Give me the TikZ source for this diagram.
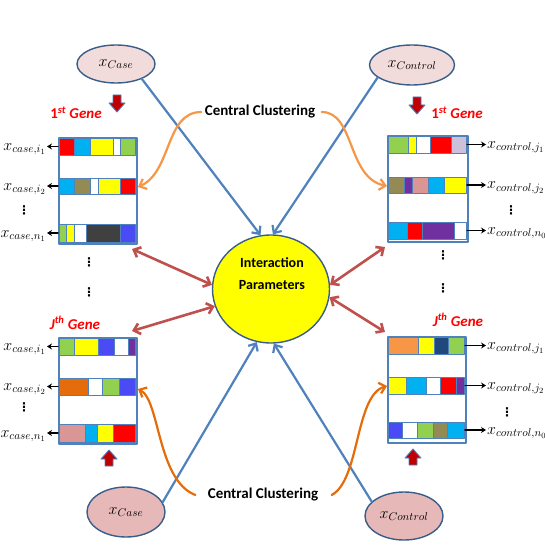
\RequirePackage{fix-cm}
\documentclass[tikz,border=0pt]{standalone}
\usepackage{fontspec}
\setmainfont{Carlito}
\newfontfamily\dotsfont{DejaVu Sans}
\usetikzlibrary{arrows.meta,shapes.geometric}
\definecolor{ocean}{HTML}{4F81BD}
\definecolor{edge}{HTML}{385D8A}
\definecolor{brick}{HTML}{C0504D}
\definecolor{amber}{HTML}{F79646}
\definecolor{rust}{HTML}{E46C0A}
\definecolor{blush}{HTML}{F2DCDB}
\definecolor{rosy}{HTML}{E6B9B8}
\definecolor{sky}{HTML}{00B0F0}
\definecolor{leaf}{HTML}{92D050}
\definecolor{khaki}{HTML}{948A54}
\definecolor{coal}{HTML}{404040}
\definecolor{royal}{HTML}{4B4BF5}
\definecolor{lilac}{HTML}{CCC0DA}
\definecolor{grape}{HTML}{7030A0}
\definecolor{dusty}{HTML}{D99694}
\definecolor{navy}{HTML}{1F497D}
\definecolor{gold}{HTML}{FFFF00}
\definecolor{scarlet}{HTML}{FF0000}
\definecolor{wine}{HTML}{C00000}
\begin{document}
\begin{tikzpicture}[x=1pt, y=-1pt, line join=round, line cap=round, >={Straight Barb[length=6pt,width=11pt]},
	sample/.style={ellipse, draw=edge, line width=1.4pt, inner sep=0pt, minimum width=78pt, font=\fontsize{16}{19}\selectfont},
	block/.style={draw=ocean, line width=2pt, fill=white, minimum width=78pt, minimum height=106pt, inner sep=0pt},
	cellbox/.style={draw=ocean, line width=0.9pt},
	rowlab/.style={inner sep=1pt, font=\fontsize{16}{19}\selectfont},
	rowarr/.style={-{Stealth[length=5pt,width=6pt]}, line width=1.4pt},
	genelab/.style={text=scarlet, font=\fontsize{15}{17}\selectfont\bfseries\itshape},
	boldtext/.style={font=\fontsize{15}{18}\selectfont\bfseries},
	dotlab/.style={inner sep=0pt, font=\fontsize{12}{13}\dotsfont\bfseries},
	feed/.style={->, draw=ocean, line width=2.2pt},
	link/.style={<->, draw=brick, line width=2.6pt},
	cluster/.style={->, line width=2.2pt},
	blockarr/.style={fill=wine, draw=ocean, line width=0.9pt}]
	\useasboundingbox (0,0) rectangle (545,545);
	% samples and centre
	\node[sample, fill=blush, minimum height=38pt] (caseA) at (116,64) {$x_{Case}$};
	\node[sample, fill=blush, minimum width=85pt, minimum height=40pt] (ctrlA) at (412,65) {$x_{Control}$};
	\node[sample, fill=rosy, minimum height=50pt] (caseB) at (126,512) {$x_{Case}$};
	\node[sample, fill=rosy, minimum height=48pt] (ctrlB) at (404,516) {$x_{Control}$};
	\node[ellipse, draw=edge, line width=1.4pt, fill=gold, minimum width=117pt, minimum height=108pt] (ip) at (271,289) {};
	\node[align=center, font=\fontsize{14}{22}\selectfont\bfseries] (iptext) at (272,274) {Interaction\\Parameters};
	\node[boldtext] (ccA) at (260,112) {Central Clustering};
	\node[boldtext] (ccB) at (263,495) {Central Clustering};
	% gene labels and block arrows
	\node[genelab] (geneA) at (76,113) {{\upshape 1}\textsuperscript{st} Gene};
	\node[genelab] (geneB) at (457,113) {{\upshape 1}\textsuperscript{st} Gene};
	\node[genelab] (geneC) at (75,323) {J\textsuperscript{th} Gene};
	\node[genelab] (geneD) at (458,320) {J\textsuperscript{th} Gene};
	\draw[blockarr] (113,95) -- ++(8,0) -- ++(0,8) -- ++(4,0) -- ++(-8,9) -- ++(-8,-9) -- ++(4,0) -- cycle;
	\draw[blockarr] (413,97) -- ++(8,0) -- ++(0,8) -- ++(4,0) -- ++(-8,9) -- ++(-8,-9) -- ++(4,0) -- cycle;
	\draw[blockarr] (105,466) -- ++(8,0) -- ++(0,-7) -- ++(4,0) -- ++(-8,-9) -- ++(-8,9) -- ++(4,0) -- cycle;
	\draw[blockarr] (409,465) -- ++(8,0) -- ++(0,-7) -- ++(4,0) -- ++(-8,-9) -- ++(-8,9) -- ++(4,0) -- cycle;
	% blocks
	\node[block, anchor=north west] (blkA) at (58,137) {};
	\node[block, anchor=north west, minimum width=80pt] (blkB) at (387,135) {};
	\node[block, anchor=north west] (blkC) at (58,337) {};
	\node[block, anchor=north west] (blkD) at (387,336) {};
	\foreach \a/\b/\c in {59/74/scarlet, 74/90/sky, 90/113/gold, 113/120/white, 120/135/leaf}
		\draw[cellbox, fill=\c] (\a,138) rectangle (\b,155);
	\foreach \a/\b/\c in {59/74/sky, 74/90/khaki, 90/98/white, 98/120/gold, 120/135/scarlet}
		\draw[cellbox, fill=\c] (\a,178) rectangle (\b,194);
	\foreach \a/\b/\c in {59/66/leaf, 66/74/gold, 74/86/white, 86/120/coal, 120/135/royal}
		\draw[cellbox, fill=\c] (\a,224) rectangle (\b,242);
	\foreach \a/\b/\c in {388/408/leaf, 408/416/gold, 416/430/white, 430/451/scarlet, 451/466/lilac}
		\draw[cellbox, fill=\c] (\a,136) rectangle (\b,153);
	\foreach \a/\b/\c in {388/404/khaki, 404/412/grape, 412/428/dusty, 428/444/sky, 444/466/gold}
		\draw[cellbox, fill=\c] (\a,177) rectangle (\b,193);
	\foreach \a/\b/\c in {388/407/sky, 407/422/scarlet, 422/454/grape, 454/466/white}
		\draw[cellbox, fill=\c] (\a,222) rectangle (\b,239);
	\foreach \a/\b/\c in {59/74/leaf, 74/98/gold, 98/114/royal, 114/128/white, 128/135/grape}
		\draw[cellbox, fill=\c] (\a,338) rectangle (\b,355);
	\foreach \a/\b/\c in {59/88/rust, 88/102/white, 102/119/leaf, 119/135/royal}
		\draw[cellbox, fill=\c] (\a,378) rectangle (\b,395);
	\foreach \a/\b/\c in {59/85/dusty, 85/97/sky, 97/113/gold, 113/135/scarlet}
		\draw[cellbox, fill=\c] (\a,424) rectangle (\b,442);
	\foreach \a/\b/\c in {388/418/amber, 418/434/gold, 434/448/navy, 448/464/leaf}
		\draw[cellbox, fill=\c] (\a,337) rectangle (\b,354);
	\foreach \a/\b/\c in {388/406/gold, 406/426/sky, 426/440/white, 440/456/scarlet, 456/464/grape}
		\draw[cellbox, fill=\c] (\a,377) rectangle (\b,394);
	\foreach \a/\b/\c in {388/402/royal, 402/417/white, 417/433/leaf, 433/447/khaki, 447/464/sky}
		\draw[cellbox, fill=\c] (\a,422) rectangle (\b,438);
	% row labels
	\node[rowlab, anchor=base east] (cA1) at (47,150.5) {$x_{case,i_1}$};
	\node[rowlab, anchor=base east] (cA2) at (47,190) {$x_{case,i_2}$};
	\node[rowlab, anchor=base east] (cA3) at (47,237) {$x_{case,n_1}$};
	\node[rowlab, anchor=base west] (cB1) at (486,148.5) {$x_{control,j_1}$};
	\node[rowlab, anchor=base west] (cB2) at (486,189) {$x_{control,j_2}$};
	\node[rowlab, anchor=base west] (cB3) at (486,234.5) {$x_{control,n_0}$};
	\node[rowlab, anchor=base east] (cC1) at (47,350.5) {$x_{case,i_1}$};
	\node[rowlab, anchor=base east] (cC2) at (47,390.5) {$x_{case,i_2}$};
	\node[rowlab, anchor=base east] (cC3) at (47,437) {$x_{case,n_1}$};
	\node[rowlab, anchor=base west] (cD1) at (486,349.5) {$x_{control,j_1}$};
	\node[rowlab, anchor=base west] (cD2) at (486,389.5) {$x_{control,j_2}$};
	\node[rowlab, anchor=base west] (cD3) at (486,434) {$x_{control,n_0}$};
	\coordinate (pA1) at (58,146.5); \coordinate (pA2) at (58,186); \coordinate (pA3) at (58,233);
	\coordinate (pB1) at (467,144.5); \coordinate (pB2) at (467,185); \coordinate (pB3) at (467,230.5);
	\coordinate (pC1) at (58,346.5); \coordinate (pC2) at (58,386.5); \coordinate (pC3) at (58,433);
	\coordinate (pD1) at (465,345.5); \coordinate (pD2) at (465,385.5); \coordinate (pD3) at (465,430);
	\draw[rowarr] (pA1) -- (pA1 -| cA1.east); \draw[rowarr] (pA2) -- (pA2 -| cA2.east); \draw[rowarr] (pA3) -- (pA3 -| cA3.east);
	\draw[rowarr] (pB1) -- (pB1 -| cB1.west); \draw[rowarr] (pB2) -- (pB2 -| cB2.west); \draw[rowarr] (pB3) -- (pB3 -| cB3.west);
	\draw[rowarr] (pC1) -- (pC1 -| cC1.east); \draw[rowarr] (pC2) -- (pC2 -| cC2.east); \draw[rowarr] (pC3) -- (pC3 -| cC3.east);
	\draw[rowarr] (pD1) -- (pD1 -| cD1.west); \draw[rowarr] (pD2) -- (pD2 -| cD2.west); \draw[rowarr] (pD3) -- (pD3 -| cD3.west);
	% dots
	\node[dotlab] (dA) at (24,210) {⋮};
	\node[dotlab] (dB) at (511,210) {⋮};
	\node[dotlab] (dC) at (24,407) {⋮};
	\node[dotlab] (dD) at (507,412) {⋮};
	\node[dotlab] (mA1) at (89,262) {⋮};
	\node[dotlab] (mA2) at (89,292) {⋮};
	\node[dotlab] (mB1) at (443,255) {⋮};
	\node[dotlab] (mB2) at (443,288) {⋮};
	% connectors
	\draw[feed] (caseA.-30) -- (ip.101);
	\draw[feed] (ctrlA.-160) -- (ip.88);
	\draw[feed] (caseB.15) -- (ip.-105);
	\draw[feed] (ctrlB.156) -- (ip.-87);
	\draw[link] ([shift={(-6,4)}]blkA.south east) -- (ip.176);
	\draw[link] ([shift={(-6,-6)}]blkC.north east) -- (ip.-163);
	\draw[link] ([shift={(-2,4)}]blkB.south west) -- (ip.4);
	\draw[link] ([shift={(-2,-4)}]blkD.north west) -- (ip.-8);
	\draw[cluster, draw=amber] (ccA.west) .. controls (165,112) and (172,172) .. ([yshift=4pt]blkA.east);
	\draw[cluster, draw=amber] ([xshift=3pt]ccA.east) .. controls (355,112) and (347,178) .. ([yshift=3pt]blkB.west);
	\draw[cluster, draw=rust] ([xshift=-9pt]ccB.west) .. controls (157,480) and (160,400) .. ([yshift=2pt]blkC.east);
	\draw[cluster, draw=rust] ([xshift=10pt]ccB.east) .. controls (360,480) and (355,395) .. ([yshift=4pt]blkD.west);
\end{tikzpicture}
\end{document}
